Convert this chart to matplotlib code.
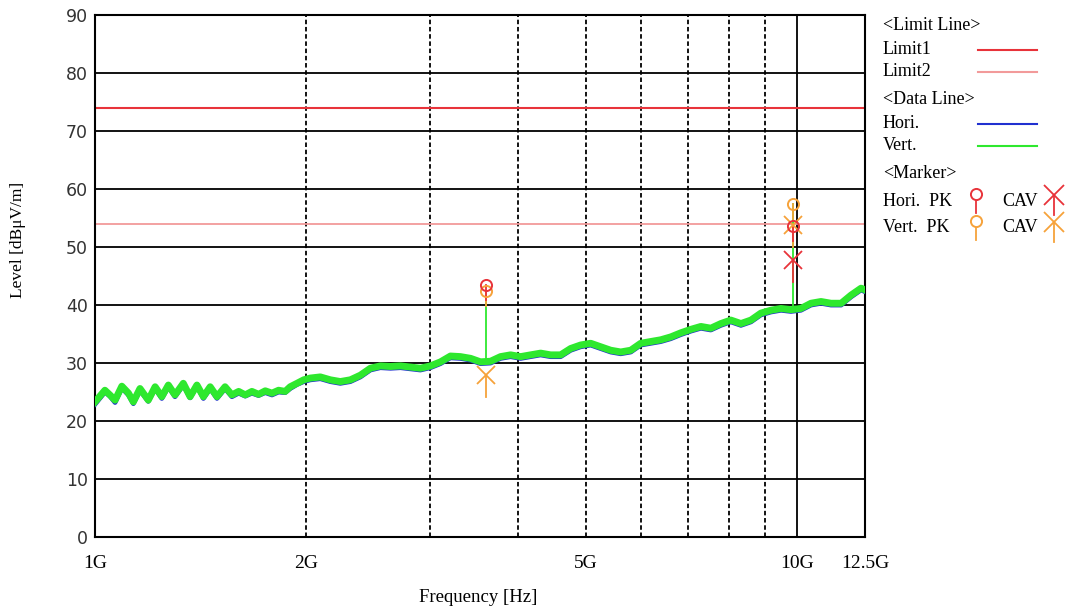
import numpy as np
import matplotlib
matplotlib.use("Agg")
import matplotlib.pyplot as plt
from matplotlib.ticker import NullLocator

# frequency in GHz, levels in dBuV/m
freq = [1.000, 1.033, 1.050, 1.068, 1.092, 1.116, 1.134, 1.159, 1.191, 1.218,
        1.245, 1.272, 1.300, 1.336, 1.366, 1.397, 1.427, 1.459, 1.492, 1.532,
        1.567, 1.602, 1.637, 1.673, 1.710, 1.748, 1.787, 1.826, 1.866, 1.897,
        1.940, 1.983,
        2.026, 2.094, 2.164, 2.236, 2.311, 2.388, 2.468, 2.550, 2.636, 2.724,
        2.814, 2.908, 3.005, 3.106, 3.209, 3.316, 3.428, 3.541,
        3.660, 3.782, 3.908, 4.039, 4.173, 4.313, 4.457, 4.606, 4.760, 4.918,
        5.083, 5.252, 5.428, 5.609, 5.797, 5.990, 6.190, 6.397, 6.611, 6.831,
        7.060,
        7.296, 7.539, 7.791, 8.050, 8.321, 8.599, 8.884, 9.182, 9.489, 9.804,
        10.13, 10.47, 10.82, 11.18, 11.56, 11.94, 12.34, 12.5]

vert = [23.3, 25.3, 24.5, 23.6, 26.0, 24.8, 23.3, 25.6, 23.6, 25.9,
        24.2, 26.2, 24.5, 26.5, 24.2, 26.2, 24.2, 25.9, 24.2, 25.9,
        24.5, 25.1, 24.5, 25.1, 24.6, 25.2, 24.8, 25.3, 25.1, 25.9,
        26.5, 27.1,
        27.4, 27.6, 27.1, 26.8, 27.1, 27.9, 29.1, 29.5, 29.4, 29.5,
        29.3, 29.1, 29.5, 30.2, 31.2, 31.1, 30.8, 30.2,
        30.3, 31.1, 31.4, 31.1, 31.4, 31.7, 31.4, 31.4, 32.5, 33.1,
        33.4, 32.8, 32.2, 31.9, 32.2, 33.4, 33.7, 34.0, 34.5, 35.2,
        35.8,
        36.3, 36.0, 36.8, 37.4, 36.8, 37.4, 38.6, 39.1, 39.4, 39.2,
        39.4, 40.3, 40.6, 40.3, 40.3, 41.7, 42.9, 42.6]

hori = [22.9, 25.0, 24.3, 23.2, 25.7, 24.5, 23.0, 25.3, 23.4, 25.6,
        23.9, 25.9, 24.2, 26.2, 24.0, 26.0, 23.9, 25.6, 23.9, 25.6,
        24.2, 24.8, 24.3, 24.8, 24.4, 24.9, 24.5, 25.0, 24.9, 25.6,
        26.3, 26.8,
        27.1, 27.3, 26.8, 26.5, 26.8, 27.6, 28.8, 29.2, 29.1, 29.2,
        29.0, 28.8, 29.2, 29.9, 30.9, 30.8, 30.5, 29.9,
        30.0, 30.8, 31.1, 30.8, 31.1, 31.4, 31.1, 31.1, 32.2, 32.8,
        33.1, 32.5, 31.9, 31.6, 31.9, 33.1, 33.4, 33.7, 34.2, 34.9,
        35.5,
        36.0, 35.7, 36.5, 37.1, 36.5, 37.1, 38.3, 38.8, 39.1, 38.9,
        39.1, 40.0, 40.3, 40.0, 40.0, 41.4, 42.6, 42.3]

limit1 = 74.0
limit2 = 54.0

hori_pk_f = [3.60, 9.86]
hori_pk_l = [43.4, 53.6]
vert_pk_f = [3.60, 9.86]
vert_pk_l = [42.4, 57.5]
hori_cav_f = [9.86]
hori_cav_l = [47.8]
vert_cav_f = [3.60, 9.86]
vert_cav_l = [28.0, 53.8]

xticks = [1, 2, 5, 10, 12.5]
xlabels = ['1G', '2G', '5G', '10G', '12.5G']

RED = '#e8333a'
PINK = '#f29a9a'
BLUE = '#2030d0'
GREEN = '#2ee82e'
ORANGE = '#f6a23a'
serif = 'Liberation Serif'

fig = plt.figure(figsize=(10.66, 6.11), dpi=100)
ax = fig.add_axes([95/1066, 1-537/611, 770/1066, 522/611])
ax.set_xscale('log')
ax.set_xlim(1, 12.5)
ax.set_ylim(0, 90)

for y in range(10, 90, 10):
    ax.axhline(y, color='black', lw=1.3, zorder=1)
for x in [2, 3, 4, 5, 6, 7, 8, 9]:
    ax.axvline(x, color='black', lw=1.3, ls=(0, (2.5, 1.5)), zorder=1)
ax.axvline(10, color='black', lw=1.3, zorder=1)

ax.axhline(limit1, color=RED, lw=1.5, zorder=2)
ax.axhline(limit2, color=PINK, lw=1.3, zorder=2)

ax.plot(freq, hori, color=BLUE, lw=3.5, zorder=3)
ax.plot(freq, vert, color=GREEN, lw=5.0, zorder=4)

# connectors from vertical markers down to the trace
for f, l in zip(vert_pk_f, vert_pk_l):
    t = np.interp(f, freq, vert)
    ax.plot([f, f], [l, t], color=GREEN, lw=1.3, zorder=5)

def pk(f, l, c):
    ax.plot([f, f], [l, l - 2.6], color=c, lw=1.3, zorder=6)
    ax.plot(f, l, marker='o', ms=8, mfc='none', mec=c, mew=1.4, zorder=7)

def cav(f, l, c):
    ax.plot([f, f], [l, l - 3.8], color=c, lw=1.3, zorder=6)
    ax.plot(f, l, marker='x', ms=13, mec=c, mew=1.3, zorder=7)

for f, l in zip(vert_cav_f, vert_cav_l):
    cav(f, l, ORANGE)
for f, l in zip(hori_cav_f, hori_cav_l):
    cav(f, l, RED)
for f, l in zip(vert_pk_f, vert_pk_l):
    pk(f, l, ORANGE)
for f, l in zip(hori_pk_f, hori_pk_l):
    pk(f, l, RED)

ax.set_xticks(xticks)
ax.set_xticklabels(xlabels, fontfamily=serif, fontsize=14)
ax.xaxis.set_minor_locator(NullLocator())
ax.set_yticks(range(0, 91, 10))
ax.tick_params(axis='x', length=0, pad=13)
ax.tick_params(axis='y', length=0, pad=5, labelsize=12.5, labelcolor='#333333')
for s in ax.spines.values():
    s.set_linewidth(1.5)

fig.text(478/1066, 1-598/611, 'Frequency [Hz]', ha='center', va='center',
         fontfamily=serif, fontsize=13.5)
fig.text(18/1066, 1-240/611, 'Level [dB\u03bcV/m]', ha='center', va='center',
         rotation=90, fontfamily=serif, fontsize=12.5)

# legend panel drawn in pixel coordinates
lg = fig.add_axes([0, 0, 1, 1])
lg.set_xlim(0, 1066)
lg.set_ylim(611, 0)
lg.axis('off')
rows = [('<Limit Line>', 25, None), ('Limit1', 50, RED), ('Limit2', 72, PINK),
        ('<Data Line>', 100, None), ('Hori.', 124, BLUE), ('Vert.', 146, GREEN),
        ('<Marker>', 174, None)]
for txt, y, c in rows:
    lg.text(883, y, txt, fontfamily=serif, fontsize=13, va='center')
    if c is not None:
        lg.plot([978, 1037], [y, y], color=c, lw=1.5)
for txt, y, c in [('Hori.  PK', 201, RED), ('Vert.  PK', 228, ORANGE)]:
    lg.text(883, y, txt, fontfamily=serif, fontsize=13, va='center')
    lg.text(1002, y, 'CAV', fontfamily=serif, fontsize=13, va='center')
    lg.plot([976, 976], [y - 7, y + 12], color=c, lw=1.3)
    lg.plot(976, y - 7, marker='o', ms=8, mfc='white', mec=c, mew=1.4)
    lg.plot([1054, 1054], [y - 6, y + 14], color=c, lw=1.3)
    lg.plot(1054, y - 6, marker='x', ms=14, mec=c, mew=1.3)

fig.savefig('out.png', dpi=100)
